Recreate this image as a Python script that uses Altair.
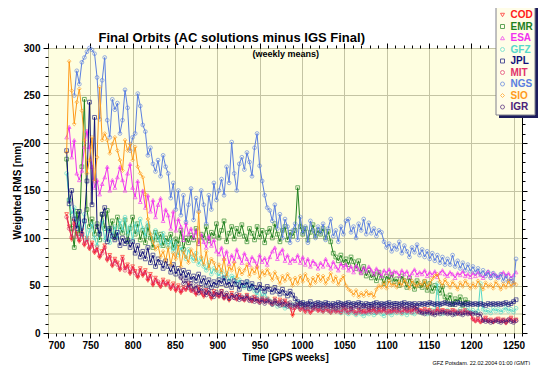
import altair as alt
import pandas as pd

WEEKS = list(range(722, 1254, 3))
AC = ["COD", "EMR", "ESA", "GFZ", "JPL", "MIT", "NGS", "SIO", "IGR"]
COLORS = ["#ff1a1a", "#1e801e", "#f030f0", "#55d8c8", "#10107a",
          "#e0306a", "#5a7fe0", "#ff9a1a", "#4b2078"]
SHAPES = ["triangle-down", "square", "triangle-up", "circle", "square",
          "circle", "circle", "diamond", "circle"]
N = None

COD = [125, 112, 98, 118, 104, 96, 108, 92, 100, 88,
       95, 84, 90, 79, 86, 92, 76, 82, 70, 78,
       74, 66, 80, 68, 72, 62, 70, 65, 58, 68,
       60, 66, 55, 62, 50, 58, 52, 48, 56, 50,
       54, 46, 52, 44, 50, 42, 48, 45, 52, 44,
       46, 40, 48, 42, 38, 45, 41, 36, 44, 40,
       38, 44, 36, 40, 34, 42, 38, 35, 40, 37,
       34, 40, 36, 33, 38, 35, 32, 37, 34, 36,
       33, 30, 36, 32, 35, 29, 34, 31, 27, 18,
       26, 30, 24, 27, 22, 25, 21, 24, 27, 23,
       25, 22, 26, 23, 21, 25, 22, 24, 21, 26,
       24, 21, 25, 22, 20, 24, 22, 23, 21, 24,
       23, 25, 21, 24, 22, 25, 21, 23, 22, 24,
       22, 24, 21, 25, 22, 24, 23, 26, 22, 24,
       23, 25, 22, 24, 21, 23, 25, 22, 24, 22,
       23, 21, 24, 22, 20, 23, 21, 24, 22, 20,
       14, 12, 15, 11, 13, 16, 12, 14, 11, 13,
       15, 12, 14, 10, 13, 16, 12, 14]

EMR = [183, 140, 110, 90, 128, 105, 175, 246, 130, 112,
       120, 104, 115, 98, 125, 110, 129, 108, 118, 100,
       122, 112, 105, 119, 96, 110, 122, 104, 115, 98,
       108, 95, 112, 100, 90, 106, 98, 104, 92, 100,
       96, 104, 90, 99, 94, 108, 88, 100, 95, 103,
       98, 110, 94, 104, 100, 112, 97, 106, 102, 115,
       100, 108, 118, 96, 105, 112, 99, 110, 104, 114,
       102, 96, 110, 105, 98, 112, 101, 108, 95, 106,
       110, 100, 115, 104, 96, 108, 112, 98, 106, 102,
       108, 153, 112, 104, 110, 98, 106, 114, 102, 108,
       104, 110, 100, 107, 96, 84, 80, 76, 82, 74,
       78, 72, 80, 75, 68, 76, 64, 70, 60, 66,
       58, 62, 55, 64, 58, 52, 60, 56, 62, 54,
       57, 50, 60, 55, 48, 58, 52, 46, 55, 50,
       48, 54, 45, 52, 44, 50, 47, 42, 49, 38,
       34, 40, 30, 36, 33, 38, 29, 35, 32, N,
       N, N, N, N, N, N, N, N, N, N,
       N, N, N, N, N, N, N, N]

ESA = [206, 217, 185, 203, 168, 161, 171, 196, 213, 196,
       175, 153, 161, 146, 157, 164, 175, 150, 161, 153,
       164, 175, 161, 150, 168, 178, 153, 143, 160, 138,
       150, 132, 145, 128, 140, 122, 135, 142, 118, 130,
       124, 110, 128, 108, 120, 112, 98, 116, 104, 110,
       100, 108, 94, 104, 96, 90, 102, 92, 98, 86,
       83, 90, 78, 86, 73, 82, 76, 88, 80, 74,
       84, 78, 72, 80, 76, 70, 82, 75, 79, 72,
       80, 86, 90, 78, 84, 88, 76, 82, 74, 78,
       76, 82, 74, 80, 72, 78, 70, 76, 73, 68,
       74, 70, 78, 72, 68, 75, 70, 66, 73, 69,
       72, 66, 70, 64, 71, 67, 63, 69, 65, 70,
       66, 62, 68, 64, 60, 66, 63, 67, 61, 65,
       64, 60, 66, 62, 65, 59, 63, 67, 61, 64,
       62, 66, 60, 64, 61, 65, 59, 63, 66, 62,
       60, 64, 62, 58, 63, 61, 65, 60, 62, 59,
       63, 60, 64, 61, 58, 62, 65, 60, 63, 61,
       59, 62, 64, 60, 63, 58, 61, 64]

GFZ = [168, 140, 125, 132, 110, 118, 102, 125, 98, 108,
       115, 100, 92, 106, 118, 98, 110, 95, 104, 112,
       100, 118, 108, 122, 104, 112, 98, 115, 106, 120,
       110, 102, 116, 104, 96, 108, 100, 92, 105, 96,
       90, 98, 86, 94, 82, 90, 85, 78, 88, 80,
       76, 84, 72, 78, 70, 66, 74, 62, 68, 64,
       60, 66, 57, 63, 55, 60, 58, 52, 56, 50,
       48, 54, 46, 50, 44, 40, 46, 38, 42, 36,
       34, 30, 33, 28, 32, 29, 26, 31, 27, 30,
       28, 32, 26, 30, 27, 24, 29, 26, 25, 28,
       26, 23, 27, 24, 22, 25, 23, 26, 21, 24,
       22, 20, 23, 21, 19, 22, 20, 18, 21, 20,
       22, 19, 21, 23, 20, 18, 22, 21, 19, 23,
       21, 24, 20, 22, 19, 23, 21, 20, 24, 22,
       21, 23, 20, 22, 24, 21, 52, 23, 20, 22,
       24, 21, 23, 20, 22, 25, 21, 23, 26, 22,
       24, 21, 23, 52, 25, 22, 24, 21, 26, 23,
       25, 22, 24, 27, 23, 25, 22, 26]

JPL = [192, 136, 150, 120, 110, 128, 104, 118, 160, 243,
       135, 227, 112, 104, 125, 132, 96, 110, 102, 98,
       106, 92, 100, 94, 98, 90, 96, 84, 92, 80,
       86, 78, 90, 74, 82, 70, 78, 74, 68, 76,
       70, 64, 72, 62, 68, 60, 66, 58, 64, 56,
       60, 55, 62, 52, 58, 50, 56, 48, 54, 50,
       56, 52, 58, 50, 54, 48, 55, 51, 46, 53,
       50, 54, 47, 52, 48, 45, 51, 47, 44, 49,
       46, 43, 48, 44, 41, 46, 42, 39, 44, 40,
       36, 33, 31, 32, 30, 31, 33, 30, 31, 32,
       31, 30, 32, 31, 29, 31, 30, 32, 31, 30,
       31, 32, 30, 31, 30, 32, 31, 29, 31, 30,
       30, 31, 32, 30, 31, 30, 31, 32, 30, 31,
       31, 30, 31, 32, 30, 31, 30, 31, 29, 31,
       30, 31, 30, 32, 31, 30, 31, 30, 31, 32,
       31, 30, 31, 30, 32, 31, 30, 31, 30, 31,
       30, 31, 30, 31, 30, 29, 31, 30, 31, 30,
       31, 30, 31, 32, 30, 31, 33, 35]

MIT = [122, 110, 101, 115, 102, 98, 105, 94, 98, 90,
       93, 86, 88, 81, 84, 90, 78, 80, 72, 76,
       72, 68, 78, 66, 70, 64, 68, 63, 60, 66,
       62, 64, 57, 60, 52, 56, 54, 50, 54, 52,
       52, 48, 50, 46, 48, 44, 46, 47, 50, 45,
       44, 42, 46, 43, 40, 44, 42, 38, 42, 41,
       39, 42, 37, 39, 36, 40, 37, 36, 39, 36,
       35, 38, 35, 34, 37, 34, 33, 36, 33, 35,
       32, 31, 34, 31, 33, 30, 33, 30, 28, 24,
       27, 29, 25, 26, 23, 26, 22, 25, 26, 24,
       24, 23, 25, 24, 22, 24, 23, 23, 22, 25,
       23, 22, 24, 23, 21, 23, 22, 22, 22, 23,
       22, 24, 22, 23, 23, 24, 22, 22, 23, 23,
       23, 23, 22, 24, 23, 23, 22, 25, 23, 23,
       22, 24, 23, 23, 22, 22, 24, 23, 23, 23,
       22, 22, 23, 23, 21, 22, 22, 23, 21, 21,
       15, 13, 14, 12, 14, 15, 13, 13, 12, 14,
       14, 13, 13, 11, 14, 15, 13, 13]

NGS = [N, N, N, 250, 276, 262, 285, 290, 296, 300,
       298, 294, 269, 225, 266, 290, 224, 206, 246, 235,
       242, 210, 224, 256, 237, 192, 206, 210, 252, 239,
       219, 212, 187, 195, 178, 170, 182, 165, 187, 175,
       168, 142, 158, 130, 150, 124, 145, 117, 135, 152,
       119, 142, 128, 150, 135, 115, 145, 130, 158, 140,
       150, 162, 145, 175, 158, 201, 168, 150, 178, 185,
       172, 190, 180, 165, 195, 210, 176, 160, 145, 132,
       129, 118, 135, 110, 125, 100, 120, 112, 95, 108,
       115, 98, 122, 105, 112, 95, 118, 108, 100, 112,
       105, 115, 98, 110, 120, 102, 108, 96, 112, 104,
       118, 120, 106, 112, 100, 115, 108, 120, 104, 116,
       105, 110, 102, 108, 106, 96, 90, 94, 86, 92,
       88, 96, 84, 92, 86, 80, 90, 85, 93, 82,
       88, 80, 86, 78, 84, 76, 82, 74, 80, 72,
       78, 72, 82, 70, 76, 68, 74, 66, 72, 65,
       70, 64, 68, 62, 66, 60, 64, 58, 63, 60,
       58, 62, 55, 60, 54, 57, 52, 78]

SIO = [190, 286, 255, 220, 243, 257, 234, 203, 168, 182,
       206, 160, 185, 259, 203, 210, 203, 189, 199, 206,
       192, 182, 171, 203, 192, 199, 182, 196, 175, 168,
       164, 146, 120, 104, 96, 88, 92, 80, 86, 76,
       90, 72, 84, 78, 92, 70, 86, 80, 74, 88,
       82, 76, 127, 80, 72, 86, 68, 78, 74, 66,
       72, 64, 78, 60, 70, 66, 74, 58, 68, 62,
       66, 72, 60, 68, 63, 70, 58, 65, 61, 67,
       62, 56, 64, 58, 52, 60, 55, 62, 57, 50,
       58, 52, 60, 54, 62, 56, 50, 58, 53, 61,
       55, 60, 52, 57, 63, 54, 59, 51, 56, 60,
       50, 46, 44, 40, 45, 38, 42, 39, 44, 40,
       42, 38, 46, 50, 48, 53, 47, 55, 50, 52,
       48, 54, 50, 56, 52, 47, 55, 51, 49, 53,
       50, 55, 48, 52, 57, 60, 62, 54, 50, 56,
       52, 48, 54, 50, 46, 53, 49, 55, 51, 47,
       52, 48, 55, 50, 46, 53, 49, 51, 47, 54,
       50, 46, 52, 48, 55, 49, 53, 51]

IGR = [N, N, N, N, N, N, N, N, N, N,
       N, N, N, N, N, N, N, N, N, N,
       N, N, N, N, N, N, N, N, N, N,
       N, N, N, N, N, N, N, N, N, N,
       N, N, N, N, N, 58, 52, 55, 48, 52,
       46, 50, 42, 47, 44, 40, 45, 41, 38, 43,
       40, 44, 38, 42, 36, 40, 37, 41, 35, 38,
       36, 39, 34, 37, 33, 36, 32, 35, 31, 34,
       33, 30, 34, 31, 29, 33, 30, 28, 32, 29,
       30, 28, 31, 29, 27, 30, 28, 27, 29, 28,
       28, 27, 29, 28, 27, 28, 26, 28, 27, 29,
       27, 28, 26, 27, 28, 27, 26, 28, 27, 26,
       27, 28, 26, 27, 28, 26, 27, 28, 26, 27,
       27, 26, 28, 27, 26, 27, 28, 26, 27, 22,
       21, 20, 22, 21, 20, 19, 21, 20, 22, 21,
       20, 21, 19, 20, 21, 20, 19, 21, 20, 21,
       20, 21, 19, 20, 13, 12, 13, 11, 12, 13,
       12, 11, 13, 12, 14, 12, 11, 13]

SERIES = [COD, EMR, ESA, GFZ, JPL, MIT, NGS, SIO, IGR]

rows = []
for name, vals in zip(AC, SERIES):
    for w, v in zip(WEEKS, vals):
        if v is not None:
            rows.append({"ac": name, "week": w, "rms": v})
df = pd.DataFrame(rows)

XMAJ = list(range(700, 1251, 50))
XMIN = list(range(700, 1261, 10))
YMAJ = list(range(0, 301, 50))
YMIN = list(range(0, 301, 10))

FONT = "Liberation Sans"
GRID = "#c4c4a4"
BG = "#fefee0"

XS = alt.Scale(domain=[700, 1260], nice=False, zero=False)
YS = alt.Scale(domain=[0, 300], nice=False, zero=False)

frame = pd.DataFrame({"w": [700, 1260], "v": [0, 300]})


def axis_layer(xax, yax):
    return alt.Chart(frame).mark_point(opacity=0).encode(
        x=alt.X("w:Q", scale=XS, axis=xax),
        y=alt.Y("v:Q", scale=YS, axis=yax),
    )


ax_main = axis_layer(
    alt.Axis(orient="bottom", values=XMAJ, format="d", grid=True, tickSize=5,
             labelFontSize=10, labelPadding=2, title="Time [GPS weeks]",
             titleFontSize=10, titlePadding=2),
    alt.Axis(orient="left", values=YMAJ, grid=True, tickSize=5,
             labelFontSize=10, labelPadding=3, title="Weighted RMS [mm]",
             titleFontSize=10, titlePadding=1),
)
ax_minor = axis_layer(
    alt.Axis(orient="bottom", values=XMIN, grid=False, labels=False,
             tickSize=3, title=None),
    alt.Axis(orient="left", values=YMIN, grid=False, labels=False,
             tickSize=3, title=None),
)
ax_opp = axis_layer(
    alt.Axis(orient="top", values=XMAJ, grid=False, labels=False,
             tickSize=5, title=None),
    alt.Axis(orient="right", values=YMAJ, grid=False, labels=False,
             tickSize=5, title=None),
)
ax_opp_minor = axis_layer(
    alt.Axis(orient="top", values=XMIN, grid=False, labels=False,
             tickSize=3, title=None),
    alt.Axis(orient="right", values=YMIN, grid=False, labels=False,
             tickSize=3, title=None),
)

grid20 = alt.Chart(pd.DataFrame({"v": [20]})).mark_rule(
    color=GRID, strokeWidth=1).encode(y=alt.Y("v:Q", scale=YS, axis=None))

layers = [ax_main, ax_minor, ax_opp, ax_opp_minor, grid20]

for name, col, shp in zip(AC, COLORS, SHAPES):
    sub = df[df["ac"] == name]
    enc = dict(x=alt.X("week:Q", scale=XS, axis=None),
               y=alt.Y("rms:Q", scale=YS, axis=None))
    layers.append(alt.Chart(sub).mark_line(color=col, strokeWidth=1).encode(**enc))
    layers.append(alt.Chart(sub).mark_point(
        shape=shp, color=col, size=14, strokeWidth=0.9, filled=False).encode(**enc))

one = pd.DataFrame({"k": [0]})

# legend box with shadow
shadow = alt.Chart(one).mark_rect(color="#1c1c5c").encode(
    x=alt.value(451), x2=alt.value(490), y=alt.value(-40.5), y2=alt.value(70))
box = alt.Chart(one).mark_rect(fill="#fffde8", stroke="#80808c", strokeWidth=1).encode(
    x=alt.value(448), x2=alt.value(487), y=alt.value(-43.5), y2=alt.value(67))

leg = pd.DataFrame({"ac": AC, "ly": [-33 + 11.5 * i for i in range(len(AC))]})
cscale = alt.Scale(domain=AC, range=COLORS)
sscale = alt.Scale(domain=AC, range=SHAPES)
leg_sym = alt.Chart(leg).mark_point(size=16, strokeWidth=1, filled=False).encode(
    x=alt.value(454.5),
    y=alt.Y("ly:Q", scale=None, axis=None),
    color=alt.Color("ac:N", scale=cscale, legend=None),
    shape=alt.Shape("ac:N", scale=sscale, legend=None),
)
leg_txt = alt.Chart(leg).mark_text(
    align="left", baseline="middle", font=FONT, fontSize=10, fontWeight="bold").encode(
    x=alt.value(462.5),
    y=alt.Y("ly:Q", scale=None, axis=None),
    text="ac:N",
    color=alt.Color("ac:N", scale=cscale, legend=None),
)

title = alt.Chart(one).mark_text(
    text="Final Orbits (AC solutions minus IGS Final)", align="center",
    baseline="alphabetic", font=FONT, fontSize=13, fontWeight="bold",
    color="black").encode(x=alt.value(183.7), y=alt.value(-6.3))
subtitle = alt.Chart(one).mark_text(
    text="(weekly means)", align="center", baseline="alphabetic", font=FONT,
    fontSize=9, fontWeight="bold", color="black").encode(
    x=alt.value(237.8), y=alt.value(8.7))
footer = alt.Chart(one).mark_text(
    text="GFZ Potsdam, 22.02.2004 01:00 (GMT)", align="right",
    baseline="alphabetic", font=FONT, fontSize=5.5, color="black").encode(
    x=alt.value(482), y=alt.value(317))

layers += [shadow, box, leg_sym, leg_txt, title, subtitle, footer]

chart = alt.layer(*layers).resolve_axis(
    x="independent", y="independent"
).properties(
    width=474, height=285,
    padding={"left": 40, "top": 40, "right": 16, "bottom": 32},
    autosize=alt.AutoSizeParams(type="none"),
    background="white",
).configure_view(
    fill=BG, stroke="black", strokeWidth=1
).configure_axis(
    labelFont=FONT, titleFont=FONT, labelFontWeight="bold",
    titleFontWeight="bold", labelColor="black", titleColor="black",
    tickColor="black", domain=False, gridColor=GRID, gridWidth=1,
)

chart.save("out.html", embed_options={"renderer": "svg", "actions": False})
